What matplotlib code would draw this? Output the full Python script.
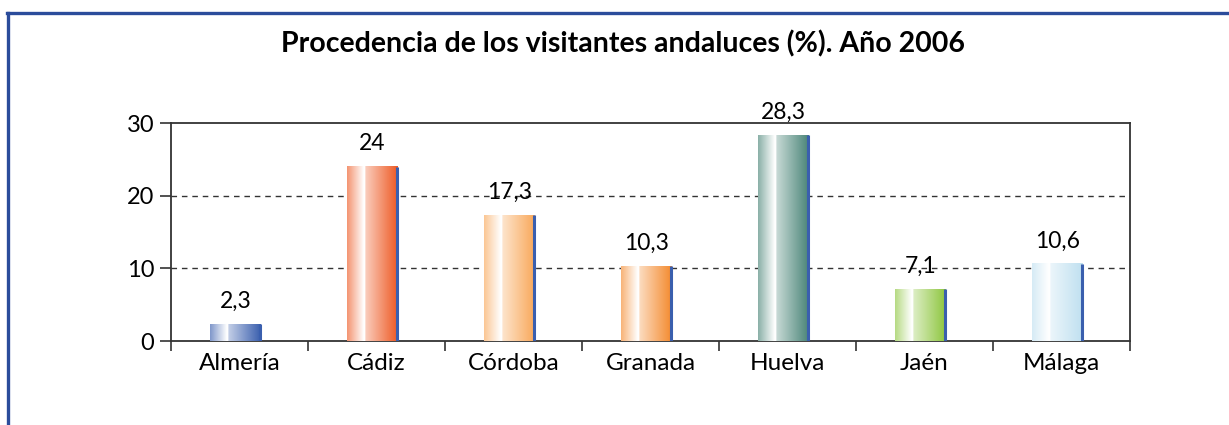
import numpy as np
import matplotlib
matplotlib.use("Agg")
import matplotlib.pyplot as plt
from matplotlib.colors import to_rgb
from matplotlib.lines import Line2D

categories = ["Almería", "Cádiz", "Córdoba", "Granada", "Huelva", "Jaén", "Málaga"]
values = [2.3, 24, 17.3, 10.3, 28.3, 7.1, 10.6]
labels = ["2,3", "24", "17,3", "10,3", "28,3", "7,1", "10,6"]
colors = ["#3a5fae", "#ee5a24", "#f9a85a", "#f48a2e", "#4a8578", "#8ec63f", "#bfe0f0"]
yticks = [0, 10, 20, 30]

plt.rcParams['font.family'] = ['Lato', 'DejaVu Sans']

fig = plt.figure(figsize=(12.29, 4.25), dpi=100)
ax = fig.add_axes([171/1229, 1-341/425, (1130-171)/1229, (341-123)/425])

x = np.arange(len(categories))
bw = 0.365
off = -0.03
bars = ax.bar(x + off, values, width=bw, facecolor='none', edgecolor='none', zorder=3)

def grad(c, n=200):
    c = np.array(to_rgb(c))
    w = np.ones(3)
    t = np.linspace(0, 1, n)
    out = np.zeros((1, n, 3))
    for i, ti in enumerate(t):
        if ti < 0.33:
            f = 0.65 - 0.65 * (ti / 0.33)
        elif ti < 0.36:
            f = 0.0
        else:
            f = 0.3 + 0.7 * ((ti - 0.36) / 0.64)
        out[0, i] = w * (1 - f) + c * f
    return out

for b, c in zip(bars, colors):
    x0, w, h = b.get_x(), b.get_width(), b.get_height()
    ax.imshow(grad(c), extent=[x0, x0 + w, 0, h], aspect='auto', zorder=3, interpolation='bilinear')
    ax.plot([x0 + w, x0 + w], [0, h], color="#3a5fae", lw=2.2, zorder=4, solid_capstyle='butt')

for b, lab in zip(bars, labels):
    ax.annotate(lab, (b.get_x() + b.get_width() / 2, b.get_height()), xytext=(0, 9),
                textcoords='offset points', ha='center', va='bottom', fontsize=16.5, color='black')

ax.set_xlim(-0.5, len(categories) - 0.5)
ax.set_ylim(0, 30)
ax.set_yticks(yticks)
ax.set_yticklabels([str(v) for v in yticks], fontsize=17)
ax.set_xticks(x)
ax.set_xticklabels(categories, fontsize=17.5)
ax.set_xticks(np.arange(len(categories) + 1) - 0.5, minor=True)
ax.tick_params(axis='x', which='major', length=0, pad=9)
ax.tick_params(axis='x', which='minor', length=7, width=1.2, color='#333333', direction='out')
ax.tick_params(axis='y', length=8, width=1.2, color='#333333', pad=4)

for v in [10, 20]:
    ax.axhline(v, color='#333333', lw=1.0, ls=(0, (4, 3.5)), zorder=1)

for s in ax.spines.values():
    s.set_color('#333333')
    s.set_linewidth(1.3)

fig.text(0.507, 1 - 44/425, "Procedencia de los visitantes andaluces (%). Año 2006",
         ha='center', va='center', fontsize=20.5, fontweight='bold')

bc = "#2b4c9b"
fig.add_artist(Line2D([8/1229, 8/1229], [0, 1 - 13/425], transform=fig.transFigure, color=bc, lw=2.4))
fig.add_artist(Line2D([7/1229, 1], [1 - 13/425, 1 - 13/425], transform=fig.transFigure, color=bc, lw=2.4))

fig.savefig("out.png", dpi=100)
